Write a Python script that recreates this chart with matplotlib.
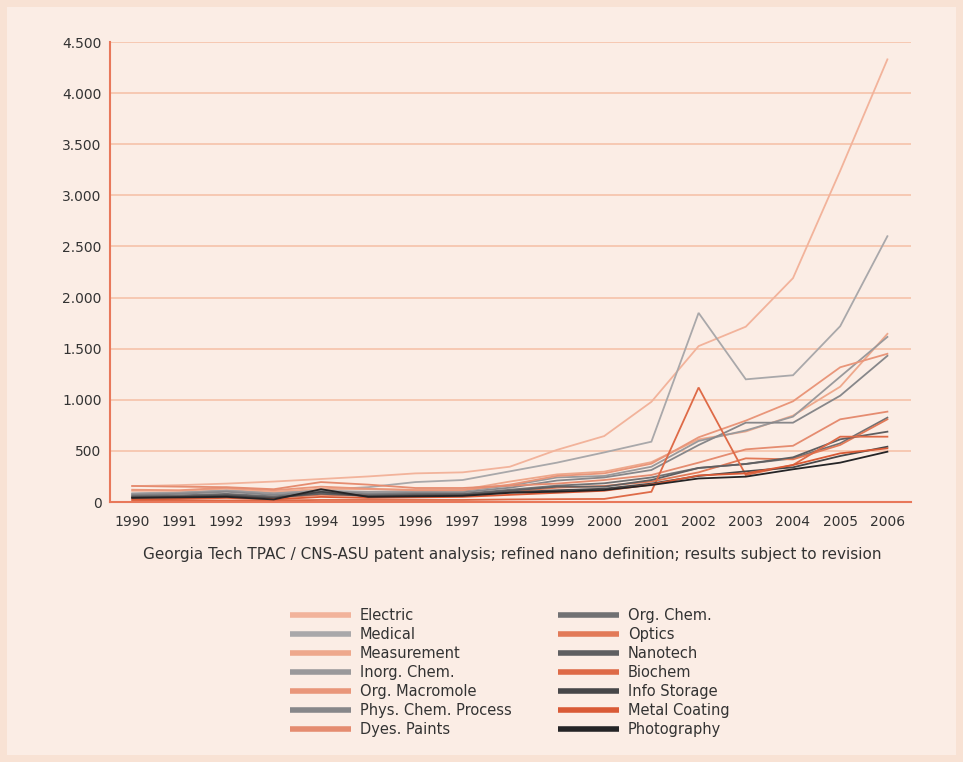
import matplotlib
matplotlib.use("Agg")
import matplotlib.pyplot as plt
from matplotlib.patches import Rectangle
from matplotlib.ticker import FuncFormatter

years = list(range(1990, 2007))

series_names = ["Electric", "Medical", "Measurement", "Inorg. Chem.", "Org. Macromole",
                "Phys. Chem. Process", "Dyes. Paints", "Org. Chem.", "Optics", "Nanotech",
                "Biochem", "Info Storage", "Metal Coating", "Photography"]

electric = [155, 165, 180, 200, 225, 250, 280, 290, 345, 510, 645, 980, 1525, 1715, 2190, 3240, 4330]
medical = [85, 95, 115, 95, 120, 145, 195, 215, 300, 385, 485, 590, 1850, 1200, 1240, 1720, 2600]
measurement = [110, 110, 130, 100, 130, 125, 120, 120, 200, 270, 297, 390, 613, 690, 845, 1128, 1645]
inorg_chem = [80, 90, 110, 85, 110, 100, 105, 110, 160, 240, 255, 345, 597, 700, 835, 1226, 1615]
org_macromole = [120, 115, 140, 115, 150, 130, 115, 115, 170, 255, 280, 375, 633, 796, 985, 1318, 1450]
phys_chem = [70, 80, 100, 70, 100, 85, 90, 95, 140, 210, 240, 313, 557, 776, 776, 1040, 1430]
dyes_paints = [157, 150, 145, 125, 195, 170, 137, 137, 160, 180, 215, 264, 385, 515, 550, 809, 884]
org_chem = [60, 65, 80, 55, 90, 70, 80, 80, 120, 160, 183, 240, 333, 372, 427, 574, 825]
optics = [40, 45, 60, 40, 70, 60, 60, 65, 100, 140, 157, 200, 290, 427, 417, 558, 809]
nanotech = [50, 55, 70, 45, 80, 60, 70, 75, 110, 150, 150, 215, 333, 372, 437, 613, 688]
biochem = [15, 15, 15, 15, 20, 20, 20, 20, 25, 28, 30, 100, 1120, 264, 362, 639, 639]
info_storage = [45, 50, 60, 35, 100, 55, 60, 65, 95, 115, 130, 180, 255, 300, 339, 450, 541]
metal_coating = [25, 30, 40, 25, 50, 40, 45, 50, 70, 90, 110, 170, 260, 280, 362, 476, 525]
photography = [40, 45, 50, 25, 125, 50, 55, 60, 90, 101, 117, 166, 230, 248, 320, 385, 492]

all_values = [electric, medical, measurement, inorg_chem, org_macromole, phys_chem,
              dyes_paints, org_chem, optics, nanotech, biochem, info_storage,
              metal_coating, photography]

colors = ["#f2b39b", "#a9a8aa", "#eea88c", "#9a999b", "#e9967a", "#87878a", "#e58c70",
          "#717173", "#e27a58", "#5f5f61", "#de6a47", "#474749", "#d95a36", "#242426"]

y_ticks = [0, 500, 1000, 1500, 2000, 2500, 3000, 3500, 4000, 4500]
caption = "Georgia Tech TPAC / CNS-ASU patent analysis; refined nano definition; results subject to revision"

plt.rcParams['font.family'] = ['DejaVu Sans']

fig = plt.figure(figsize=(9.63, 7.62), dpi=100)
fig.patch.set_facecolor("#fbede5")
fig.patches.append(Rectangle((0, 0), 1, 1, transform=fig.transFigure, fill=False,
                             edgecolor="#f8e2d4", linewidth=10, zorder=-1))

ax = fig.add_axes([110/963, 1-502/762, 801/963, 460/762])
ax.set_facecolor("none")

for name, vals, c in zip(series_names, all_values, colors):
    ax.plot(years, vals, color=c, lw=1.3, label=name, solid_joinstyle="miter")

ax.set_xlim(1989.53, 2006.5)
ax.set_ylim(0, 4500)
ax.set_yticks(y_ticks)
ax.yaxis.set_major_formatter(FuncFormatter(lambda v, p: f"{int(v):,}".replace(",", ".")))
ax.set_xticks(years)
ax.set_xticklabels([str(y) for y in years])
ax.grid(axis="y", color="#f6c6ae", lw=1.3)
ax.set_axisbelow(True)
for s in ["top", "right"]:
    ax.spines[s].set_visible(False)
for s in ["left", "bottom"]:
    ax.spines[s].set_color("#e8785a")
    ax.spines[s].set_linewidth(1.5)
ax.tick_params(axis="both", length=0, labelsize=10, labelcolor="#333333")
ax.tick_params(axis="x", pad=9)
ax.tick_params(axis="y", pad=6)

fig.text(512/963, 1-555/762, caption, ha="center", va="center", fontsize=11, color="#333333")

handles, labels = ax.get_legend_handles_labels()
leg = fig.legend(handles, labels, loc="upper left", bbox_to_anchor=(290/963, 1-608/762),
                 ncol=2, frameon=False, fontsize=10.5, handlelength=4.2, handletextpad=0.6,
                 columnspacing=3.15, labelspacing=0.27, borderpad=0, borderaxespad=0)
for line in leg.get_lines():
    line.set_linewidth(4)
    line.set_solid_capstyle("butt")
for t in leg.get_texts():
    t.set_color("#333333")

fig.savefig("out.png", dpi=100, facecolor=fig.get_facecolor())
